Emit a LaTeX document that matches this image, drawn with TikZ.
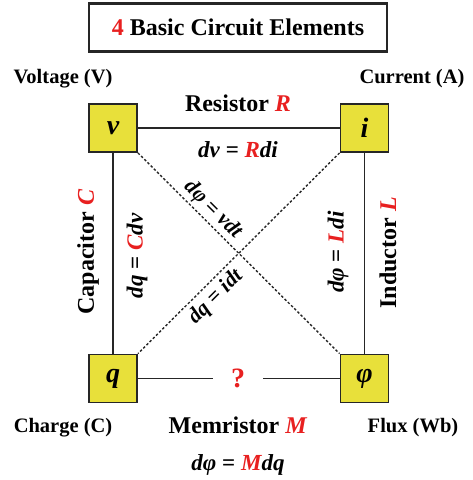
\documentclass[tikz,border=0pt]{standalone}
\usepackage{fontspec}
\setmainfont{Liberation Serif}
\definecolor{boxyel}{RGB}{232,224,58}
\definecolor{myred}{RGB}{232,32,32}
\newcommand{\bi}[1]{\textbf{\textit{#1}}}
\begin{document}
\begin{tikzpicture}[x=1pt,y=-1pt,
  var/.style={draw=black!85,line width=1.8pt,fill=boxyel,minimum size=48pt,inner sep=0pt,font=\fontsize{28}{30}\selectfont\bfseries\itshape},
  conn/.style={draw=black!85,line width=1.9pt},
  dashconn/.style={draw=black!85,line width=1.4pt,dash pattern=on 2.5pt off 2pt},
  lab/.style={font=\fontsize{20.5}{22}\selectfont\bfseries,inner sep=0pt},
  elem/.style={font=\fontsize{24}{26}\selectfont\bfseries,inner sep=0pt},
  eq/.style={font=\fontsize{23}{25}\selectfont\bfseries,inner sep=0pt},
  diag/.style={font=\fontsize{21.5}{23}\selectfont\bfseries,inner sep=0pt}]
\useasboundingbox (0,0) rectangle (472,480);
% title
\node[draw=black!85,line width=2.2pt,minimum width=298pt,minimum height=48pt,inner sep=0pt,
  font=\fontsize{24}{26}\selectfont\bfseries] (title) at (238,27.5) {\textcolor{myred}{4} Basic Circuit Elements};
% boxes
\node[var] (v) at (113,128) {v};
\node[var] (i) at (364.5,128) {i};
\node[var] (q) at (113,378.5) {q};
\node[var] (f) at (364.5,378.5) {φ};
% corner labels
\node[lab] (lv) at (63,79) {Voltage (V)};
\node[lab] (li) at (412,79) {Current (A)};
\node[lab] (lq) at (63,428) {Charge (C)};
\node[lab] (lf) at (413,428) {Flux (Wb)};
% solid connectors
\draw[conn] (v) -- (i);
\draw[conn] (v) -- (q);
\draw[conn] (i) -- (f);
\node[font=\fontsize{28}{30}\selectfont\bfseries,text=myred,inner sep=0pt] (qm) at (238,378) {?};
\coordinate (ql) at (213,378.5);
\coordinate (qr) at (263,378.5);
\draw[conn] (q) -- (ql);
\draw[conn] (qr) -- (f);
% dashed diagonals
\draw[dashconn] (v.south east) -- (f.north west);
\draw[dashconn] (i.south west) -- (q.north east);
% element names
\node[elem] (res) at (238,103) {Resistor \textcolor{myred}{\textit{R}}};
\node[eq] (reseq) at (238,150) {\bi{dv} = \bi{\textcolor{myred}{R}di}};
\node[elem,rotate=90] (cap) at (88,252) {Capacitor \textcolor{myred}{\textit{C}}};
\node[eq,rotate=90] (capeq) at (137,256) {\bi{dq} = \bi{\textcolor{myred}{C}dv}};
\node[elem,rotate=90] (ind) at (388,253) {Inductor \textcolor{myred}{\textit{L}}};
\node[eq,rotate=90] (indeq) at (338,252) {\bi{dφ} = \bi{\textcolor{myred}{L}di}};
\node[elem] (mem) at (238,425) {Memristor \textcolor{myred}{\textit{M}}};
\node[eq] (memeq) at (238,465) {\bi{dφ} = \bi{\textcolor{myred}{M}dq}};
\node[diag,rotate=-45] (vdt) at (213,210) {\bi{dφ} = \bi{vdt}};
\node[diag,rotate=45] (idt) at (216,297) {\bi{dq} = \bi{idt}};
\end{tikzpicture}
\end{document}
